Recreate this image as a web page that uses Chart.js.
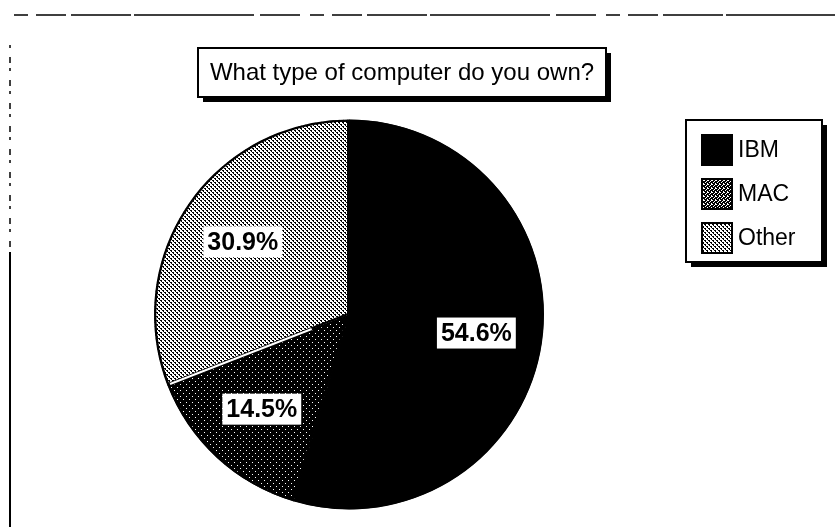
<!DOCTYPE html>
<html>
<head>
<meta charset="utf-8">
<script src="https://cdn.jsdelivr.net/npm/chart.js@4.4.1/dist/chart.umd.min.js"></script>
<style>
  html, body { margin: 0; padding: 0; background: #ffffff; }
  #wrap { width: 835px; height: 527px; }
</style>
</head>
<body>
<div id="wrap"><canvas id="c" width="835" height="527"></canvas></div>
<script>
// ---- data ----
const chartTitle = 'What type of computer do you own?';
const categories = ['IBM', 'MAC', 'Other'];
const shares = [54.6, 14.5, 30.9];
const sliceLabels = ['54.6%', '14.5%', '30.9%'];

// ---- dither patterns (style only) ----
function makePattern(rows) {
  const c = document.createElement('canvas');
  c.width = rows[0].length; c.height = rows.length;
  const x = c.getContext('2d');
  x.fillStyle = '#fff'; x.fillRect(0, 0, c.width, c.height);
  x.fillStyle = '#000';
  rows.forEach((r, j) => { for (let i = 0; i < r.length; i++) if (r[i] === 'X') x.fillRect(i, j, 1, 1); });
  return x.createPattern(c, 'repeat');
}
const patDark = makePattern(['.XXXXX', 'XXXXXX', 'XXXXXX', 'XXX.XX', 'XXXXXX', 'XXXXXX']);
const patDarkSwatch = makePattern(['.XX.', 'XX.X', 'X.XX', 'XXX.']);
const patLight = makePattern(['XX..', '.X..', '..XX', '...X']);
const fills = ['#000000', patDark, patLight];
const swatchFills = ['#000000', patDarkSwatch, patLight];

const FONT = '"Liberation Sans", Arial, Helvetica, sans-serif';

const decorPlugin = {
  id: 'decor',
  beforeDraw(chart) {
    const ctx = chart.ctx;
    ctx.save();
    ctx.strokeStyle = '#000';
    ctx.lineWidth = 1.5;
    ctx.setLineDash([14, 8, 30, 5, 60, 3, 120, 6, 40, 10]);
    ctx.beginPath(); ctx.moveTo(14, 15); ctx.lineTo(835, 15); ctx.stroke();
    ctx.setLineDash([3, 9, 6, 5]);
    ctx.beginPath(); ctx.moveTo(10, 45); ctx.lineTo(10, 250); ctx.stroke();
    ctx.setLineDash([]);
    ctx.lineWidth = 2;
    ctx.beginPath(); ctx.moveTo(10, 252); ctx.lineTo(10, 527); ctx.stroke();
    ctx.restore();
  },
  afterDraw(chart) {
    const ctx = chart.ctx;
    ctx.save();
    // title box with shadow
    const tx = 198, ty = 48, tw = 408, th = 49;
    ctx.fillStyle = '#000';
    ctx.fillRect(tx + 5, ty + 5, tw, th);
    ctx.fillStyle = '#fff';
    ctx.fillRect(tx, ty, tw, th);
    ctx.lineWidth = 2; ctx.strokeStyle = '#000';
    ctx.strokeRect(tx, ty, tw, th);
    ctx.fillStyle = '#000';
    ctx.font = '24px ' + FONT;
    ctx.textAlign = 'center'; ctx.textBaseline = 'middle';
    ctx.fillText(chartTitle, tx + tw / 2, ty + th / 2 + 1);

    // legend box with shadow
    const lx = 686, ly = 120, lw = 136, lh = 142;
    ctx.fillStyle = '#000';
    ctx.fillRect(lx + 5, ly + 5, lw, lh);
    ctx.fillStyle = '#fff';
    ctx.fillRect(lx, ly, lw, lh);
    ctx.lineWidth = 2;
    ctx.strokeRect(lx, ly, lw, lh);
    ctx.font = '23px ' + FONT;
    ctx.textAlign = 'left';
    categories.forEach((name, i) => {
      const sy = 135 + i * 44;
      ctx.fillStyle = swatchFills[i];
      ctx.fillRect(702, sy, 30, 30);
      ctx.lineWidth = 2; ctx.strokeStyle = '#000';
      ctx.strokeRect(702, sy, 30, 30);
      ctx.fillStyle = '#000';
      ctx.fillText(name, 738, sy + 16);
    });
    ctx.restore();
  },
  afterDatasetsDraw(chart) {
    const ctx = chart.ctx;
    const meta = chart.getDatasetMeta(0);
    ctx.save();
    // white seam between MAC and Other slices
    const mac = meta.data[1].getProps(['x', 'y', 'endAngle', 'outerRadius'], true);
    ctx.strokeStyle = '#fff'; ctx.lineWidth = 2;
    ctx.beginPath();
    ctx.moveTo(mac.x + Math.cos(mac.endAngle) * 40, mac.y + Math.sin(mac.endAngle) * 40);
    ctx.lineTo(mac.x + Math.cos(mac.endAngle) * (mac.outerRadius - 3), mac.y + Math.sin(mac.endAngle) * (mac.outerRadius - 3));
    ctx.stroke();

    ctx.font = 'bold 25px ' + FONT;
    ctx.textAlign = 'center'; ctx.textBaseline = 'middle';
    meta.data.forEach((arc, i) => {
      const p = arc.getProps(['x', 'y', 'startAngle', 'endAngle', 'outerRadius'], true);
      const mid = (p.startAngle + p.endAngle) / 2;
      const r = p.outerRadius * 0.66;
      const cx = p.x + Math.cos(mid) * r;
      const cy = p.y + Math.sin(mid) * r;
      const txt = sliceLabels[i];
      const w = ctx.measureText(txt).width + 8;
      const h = 31;
      ctx.fillStyle = '#fff';
      ctx.fillRect(cx - w / 2, cy - h / 2, w, h);
      ctx.fillStyle = '#000';
      ctx.fillText(txt, cx, cy + 1);
    });
    ctx.restore();
  }
};

new Chart(document.getElementById('c'), {
  type: 'pie',
  data: {
    labels: categories,
    datasets: [{
      data: shares,
      backgroundColor: fills,
      borderColor: '#000',
      borderWidth: 2,
      borderAlign: 'inner'
    }]
  },
  options: {
    responsive: false,
    animation: false,
    layout: { padding: { top: 119, bottom: 17, left: 154, right: 291 } },
    plugins: {
      legend: { display: false },
      title: { display: false },
      tooltip: { enabled: false }
    }
  },
  plugins: [decorPlugin]
});
</script>
</body>
</html>
